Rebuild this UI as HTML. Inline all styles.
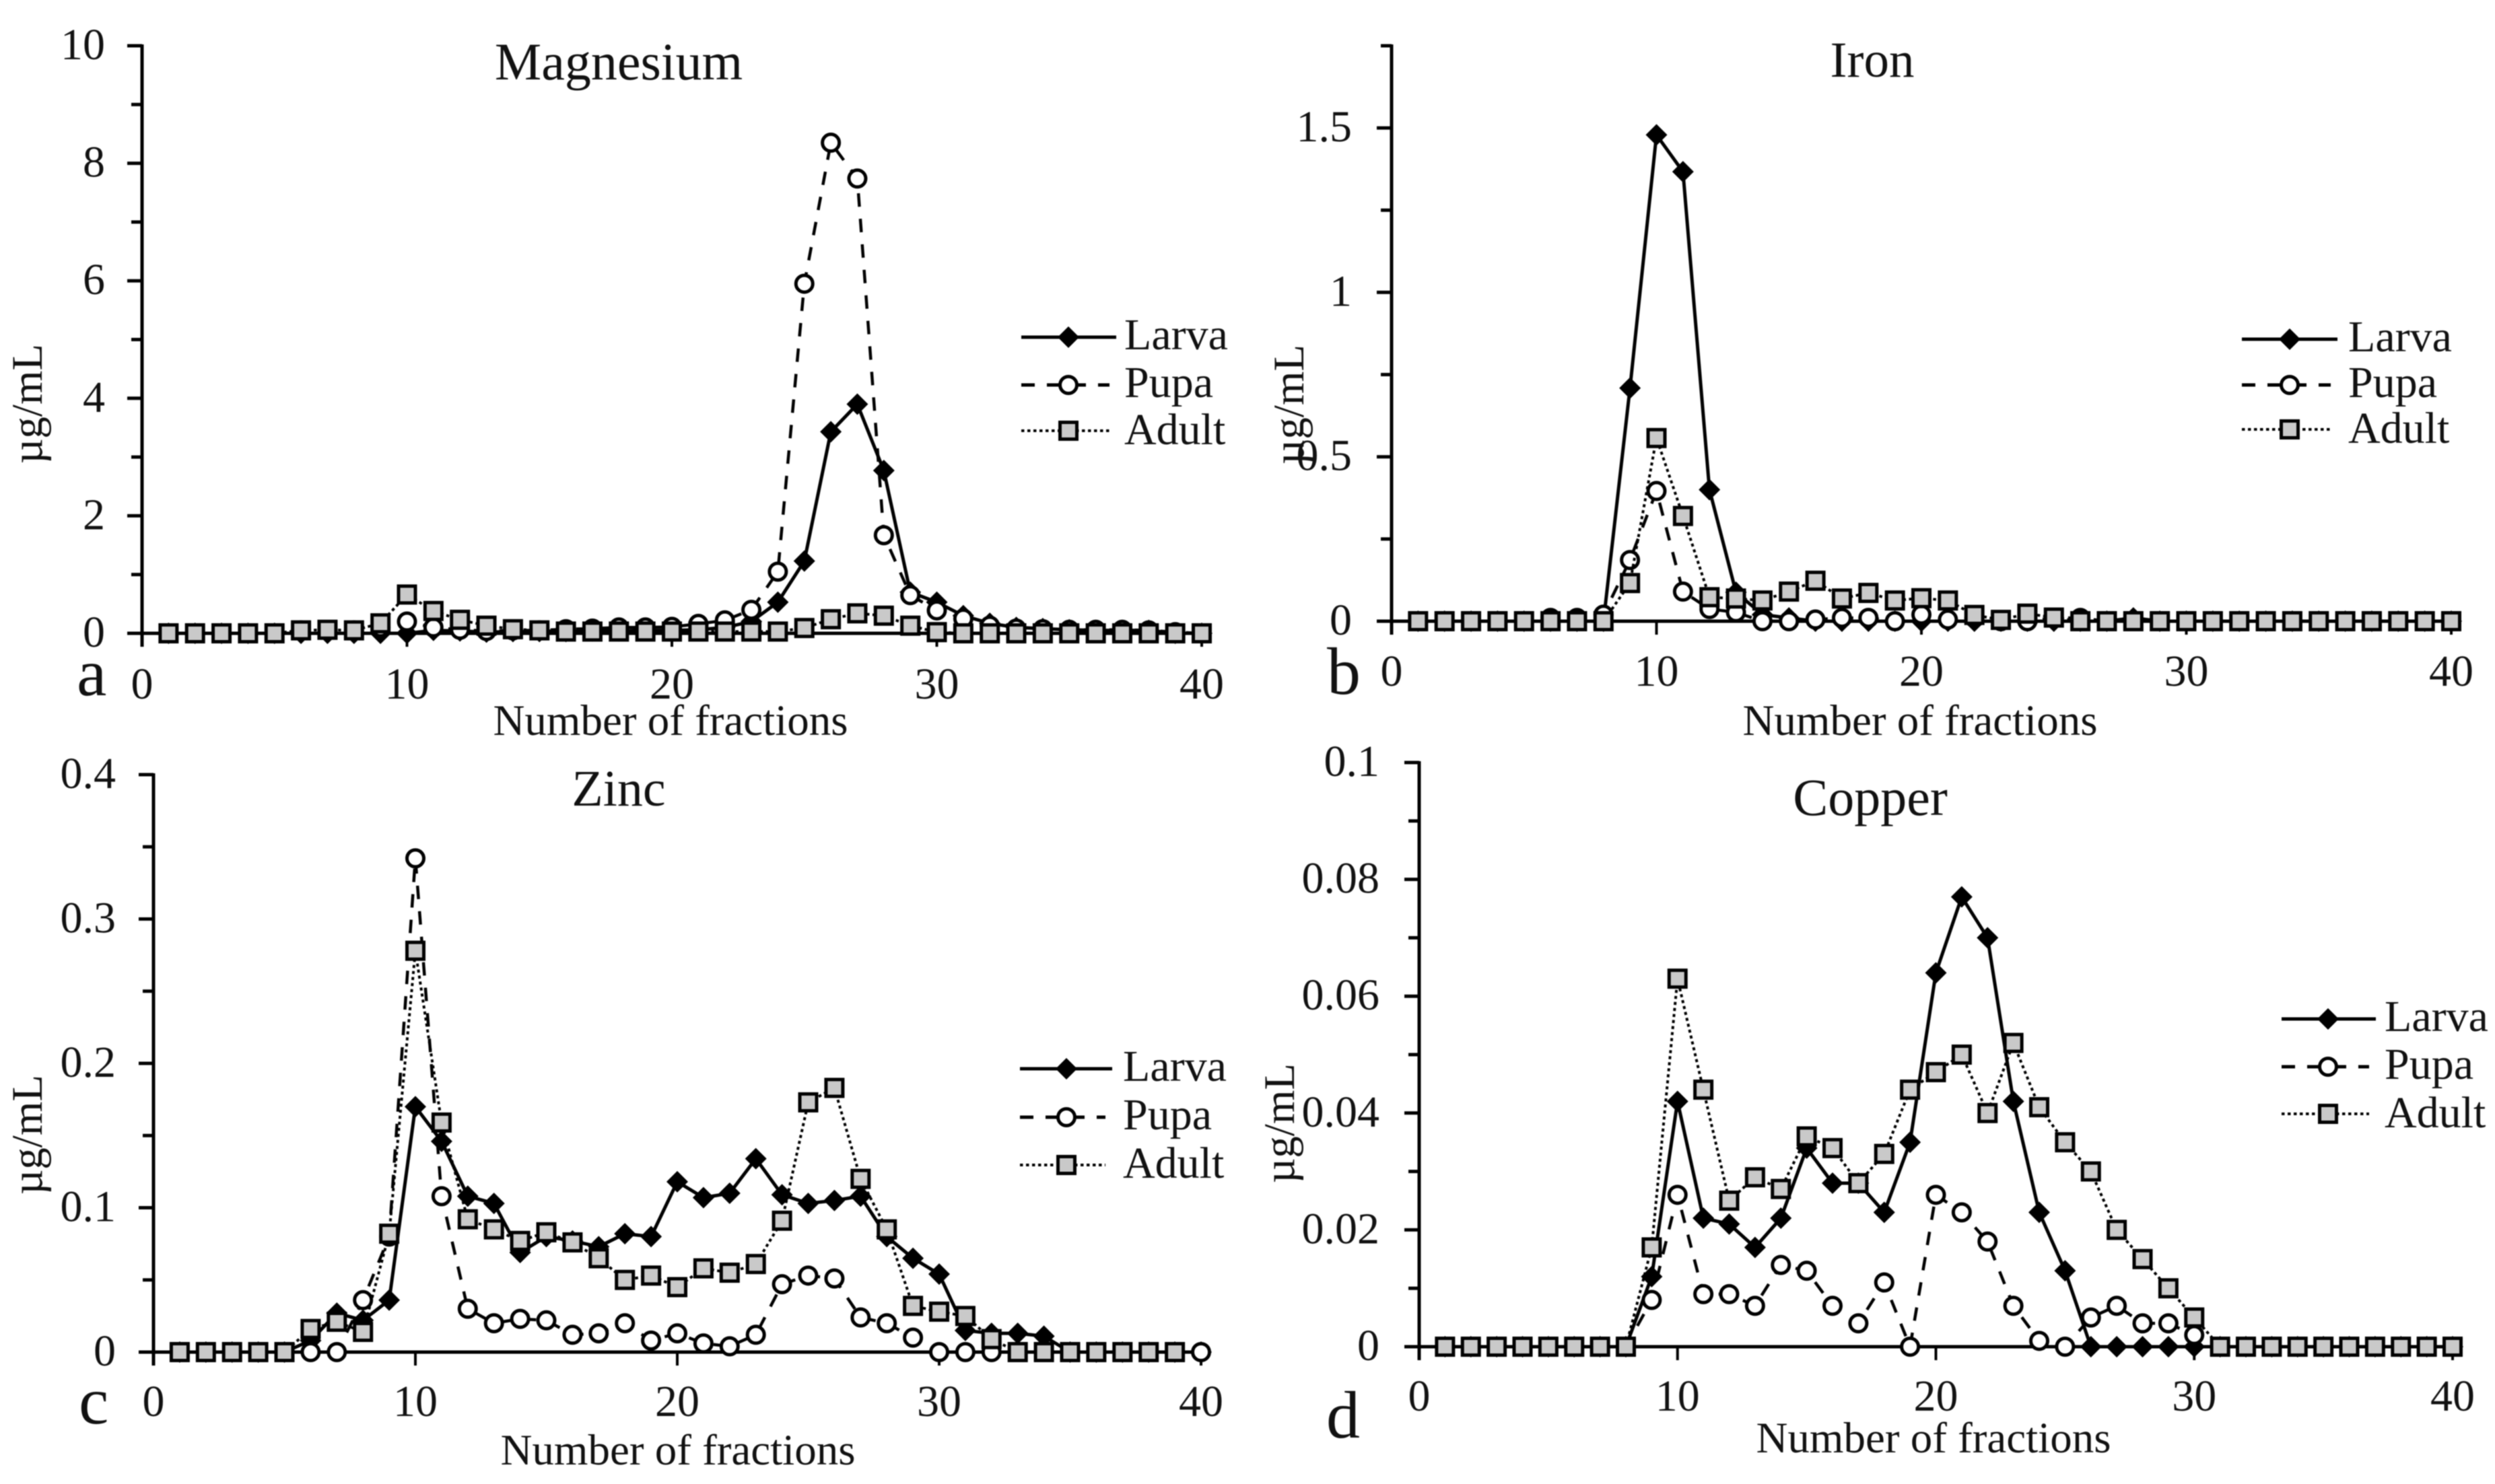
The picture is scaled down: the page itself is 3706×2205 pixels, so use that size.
<!DOCTYPE html>
<html lang="en">
<head>
<meta charset="utf-8">
<title>Metal concentration by fraction</title>
<style>
html,body{margin:0;padding:0;background:#fff;}
svg{display:block;filter:blur(0.7px);}
text{font-family:"Liberation Serif","Times New Roman",serif;fill:#111;}
.tick{font-size:66px;}
.title{font-size:75px;}
.axt{font-size:65px;}
.leg{font-size:66px;}
.tag{font-size:100px;}
</style>
</head>
<body>
<svg id="figure" xmlns="http://www.w3.org/2000/svg" width="3706" height="2205" viewBox="0 0 3706 2205">
  <rect width="3706" height="2205" fill="#fff"/>

  <g id="panel-a">
    <text class="title" x="919" y="118" text-anchor="middle" style="font-size:78px">Magnesium</text>
    <text class="tag" x="114" y="1033">a</text>
    <text class="axt" x="996" y="1092" text-anchor="middle">Number of fractions</text>
    <text class="axt" transform="translate(62,600) rotate(-90)" text-anchor="middle">µg/mL</text>
    <text class="leg" x="1670" y="519">Larva</text>
    <text class="leg" x="1670" y="590">Pupa</text>
    <text class="leg" x="1670" y="660">Adult</text>
  </g>

  <g id="panel-b">
    <text class="title" x="2781" y="114" text-anchor="middle">Iron</text>
    <text class="tag" x="1971" y="1031">b</text>
    <text class="axt" x="2852" y="1092" text-anchor="middle">Number of fractions</text>
    <text class="axt" transform="translate(1936,601) rotate(-90)" text-anchor="middle">µg/mL</text>
    <text class="leg" x="3488" y="522">Larva</text>
    <text class="leg" x="3488" y="590">Pupa</text>
    <text class="leg" x="3488" y="658">Adult</text>
  </g>

  <g id="panel-c">
    <text class="title" x="919" y="1197" text-anchor="middle" style="font-size:76px">Zinc</text>
    <text class="tag" x="117" y="2115">c</text>
    <text class="axt" x="1007" y="2176" text-anchor="middle">Number of fractions</text>
    <text class="axt" transform="translate(62,1686) rotate(-90)" text-anchor="middle">µg/mL</text>
    <text class="leg" x="1668" y="1606">Larva</text>
    <text class="leg" x="1668" y="1678">Pupa</text>
    <text class="leg" x="1668" y="1750">Adult</text>
  </g>

  <g id="panel-d">
    <text class="title" x="2778" y="1211" text-anchor="middle" style="font-size:78px">Copper</text>
    <text class="tag" x="1970" y="2136">d</text>
    <text class="axt" x="2872" y="2158" text-anchor="middle">Number of fractions</text>
    <text class="axt" transform="translate(1922,1669) rotate(-90)" text-anchor="middle">µg/mL</text>
    <text class="leg" x="3542" y="1532">Larva</text>
    <text class="leg" x="3542" y="1603">Pupa</text>
    <text class="leg" x="3542" y="1675">Adult</text>
  </g>
</svg>

<script>
// ---------- Data ----------
const xTickLabels = ['0','10','20','30','40'];

const mgYTicks = ['0','2','4','6','8','10'];
const mgYMinor = [1,3,5,7,9];
const mgLarva = [0,0,0,0,0,0,0,0,0,0,0.05,0.04,0.02,0.03,0.03,0.03,0.04,0.04,0.05,0.05,0.06,0.1,0.2,0.53,1.23,3.43,3.9,2.77,0.7,0.53,0.3,0.17,0.1,0.08,0.06,0.05,0.05,0.05,0,0];
const mgPupa = [0,0,0,0,0,0.05,0.05,0.05,0.1,0.2,0.1,0.06,0.04,0.05,0.05,0.07,0.08,0.1,0.1,0.11,0.16,0.22,0.4,1.05,5.95,8.35,7.74,1.67,0.65,0.39,0.25,0.13,0.08,0.07,0.06,0.06,0.06,0.05,0.02,0];
const mgAdult = [0,0,0,0,0,0.05,0.06,0.05,0.17,0.66,0.38,0.23,0.13,0.07,0.05,0.03,0.03,0.03,0.03,0.03,0.03,0.03,0.03,0.03,0.09,0.24,0.34,0.3,0.13,0.02,0,0,0,0,0,0,0,0,0,0];

const feYTicks = ['0','0.5','1','1.5'];
const feYMinor = [0.25,0.75,1.25,1.75];
const feLarva = [0,0,0,0,0,0,0,0,0.709,1.479,1.367,0.4,0.088,0.02,0.01,0,0,0,0,0,0,0,0,0,0,0,0,0.01,0,0,0,0,0,0,0,0,0,0,0,0];
const fePupa = [0,0,0,0,0,0.01,0.01,0.02,0.186,0.396,0.09,0.037,0.027,0,0,0.005,0.01,0.01,0,0.02,0.005,0.01,0,0,0.01,0.01,0,0,0,0,0,0,0,0,0,0,0,0,0,0];
const feAdult = [0,0,0,0,0,0,0,0,0.116,0.557,0.32,0.073,0.069,0.063,0.09,0.123,0.069,0.086,0.063,0.07,0.063,0.019,0.004,0.023,0.011,0,0,0,0,0,0,0,0,0,0,0,0,0,0,0];

const znYTicks = ['0','0.1','0.2','0.3','0.4'];
const znYMinor = [0.05,0.15,0.25,0.35];
const znLarva = [0,0,0,0,0,0.008,0.027,0.022,0.036,0.17,0.146,0.108,0.103,0.069,0.08,0.077,0.073,0.082,0.08,0.118,0.107,0.11,0.134,0.109,0.103,0.105,0.108,0.08,0.065,0.054,0.015,0.013,0.013,0.011,0,0,0,0,0,0];
const znPupa = [0,0,0,0,0,0,0,0.036,0.08,0.342,0.108,0.03,0.02,0.023,0.022,0.012,0.013,0.02,0.008,0.013,0.006,0.004,0.012,0.047,0.053,0.051,0.024,0.02,0.01,0,0,0,0,0,0,0,0,0,0,0];
const znAdult = [0,0,0,0,0,0.016,0.021,0.014,0.082,0.278,0.159,0.092,0.085,0.077,0.083,0.076,0.065,0.05,0.053,0.045,0.058,0.055,0.061,0.091,0.173,0.183,0.12,0.085,0.032,0.028,0.025,0.009,0,0,0,0,0,0,0];

const cuYTicks = ['0','0.02','0.04','0.06','0.08','0.1'];
const cuYMinor = [0.01,0.03,0.05,0.07,0.09];
const cuLarva = [0,0,0,0,0,0,0,0,0.012,0.042,0.022,0.021,0.017,0.022,0.034,0.028,0.028,0.023,0.035,0.064,0.077,0.07,0.042,0.023,0.013,0,0,0,0,0,0,0,0,0,0,0,0,0,0,0];
const cuPupa = [0,0,0,0,0,0,0,0,0.008,0.026,0.009,0.009,0.007,0.014,0.013,0.007,0.004,0.011,0,0.026,0.023,0.018,0.007,0.001,0,0.005,0.007,0.004,0.004,0.002,0,0,0,0,0,0,0,0,0,0];
const cuAdult = [0,0,0,0,0,0,0,0,0.017,0.063,0.044,0.025,0.029,0.027,0.036,0.034,0.028,0.033,0.044,0.047,0.05,0.04,0.052,0.041,0.035,0.03,0.02,0.015,0.01,0.005,0,0,0,0,0,0,0,0,0,0];

// ---------- Layout (geometry only) ----------
const panels = [
  {id:'panel-a', larva:mgLarva, pupa:mgPupa, adult:mgAdult, yTicks:mgYTicks, yMinor:mgYMinor, yMax:10,
   x0:211, x40:1785, y0:941, yTop:68, yLabelX:156, xLabelY:1038, legX0:1517, legX1:1658, legM:1587, legY:[501,572,640]},
  {id:'panel-b', larva:feLarva, pupa:fePupa, adult:feAdult, yTicks:feYTicks, yMinor:feYMinor, yMax:1.75,
   x0:2067, x40:3641, y0:923, yTop:68, yLabelX:2008, xLabelY:1019, legX0:3330, legX1:3472, legM:3401, legY:[504,572,638]},
  {id:'panel-c', larva:znLarva, pupa:znPupa, adult:znAdult, yTicks:znYTicks, yMinor:znYMinor, yMax:0.4,
   x0:228, x40:1784, y0:2009, yTop:1151, yLabelX:172, xLabelY:2104, legX0:1515, legX1:1652, legM:1584, legY:[1588,1660,1731]},
  {id:'panel-d', larva:cuLarva, pupa:cuPupa, adult:cuAdult, yTicks:cuYTicks, yMinor:cuYMinor, yMax:0.1,
   x0:2108, x40:3643, y0:2001, yTop:1133, yLabelX:2049, xLabelY:2096, legX0:3389, legX1:3529, legM:3458, legY:[1514,1585,1655]}
];

const NS = 'http://www.w3.org/2000/svg';
const INK = '#000';

function mk(tag, parent, attrs) {
  const e = document.createElementNS(NS, tag);
  for (const k in attrs) e.setAttribute(k, attrs[k]);
  parent.appendChild(e);
  return e;
}

function drawMarker(kind, g, cx, cy) {
  let m;
  if (kind === 'larva') {
    m = mk('polygon', g, {points:(cx-16)+','+cy+' '+cx+','+(cy-16)+' '+(cx+16)+','+cy+' '+cx+','+(cy+16), fill:INK});
  } else if (kind === 'pupa') {
    m = mk('circle', g, {cx:cx, cy:cy, r:12.5, fill:'#fff', stroke:INK, 'stroke-width':5});
  } else {
    m = mk('rect', g, {x:cx-12.5, y:cy-12.5, width:25, height:25, fill:'#c9c9c9', stroke:INK, 'stroke-width':5});
  }
  
  
}

const lineStyles = {
  larva:{'stroke-width':5},
  pupa:{'stroke-width':4.5, 'stroke-dasharray':'20 18'},
  adult:{'stroke-width':4, 'stroke-dasharray':'4.5 4.5'}
};

function drawSeries(root, kind, values, sx, sy) {
  const g = mk('g', root, {});
  
  
  const pts = values.map(function (v, i) { return sx(i + 1) + ',' + sy(v); }).join(' ');
  const line = mk('polyline', g, Object.assign({points:pts, fill:'none', stroke:INK, 'stroke-linejoin':'round'}, lineStyles[kind]));
  
  
  values.forEach(function (v, i) { drawMarker(kind, g, sx(i + 1), sy(v)); });
}

function drawLegendKey(root, kind, p, y) {
  const g = mk('g', root, {});
  
  
  const end = kind === 'larva' ? p.legX1 : p.legX1 - 10;
  const style = Object.assign({}, lineStyles[kind], kind === 'larva' ? {'stroke-width':5} : {'stroke-width': kind === 'pupa' ? 5 : 4});
  const l = mk('line', g, Object.assign({x1:p.legX0, y1:y, x2:end, y2:y, stroke:INK}, style));
  
  
  drawMarker(kind, g, p.legM, y);
}

panels.forEach(function (p) {
  const root = document.getElementById(p.id);
  const sx = function (v) { return p.x0 + v * (p.x40 - p.x0) / 40; };
  const sy = function (v) { return p.y0 - v / p.yMax * (p.y0 - p.yTop); };

  const axes = mk('g', root, {stroke:INK, 'stroke-width':5});
  
  

  const yAxis = mk('line', axes, {x1:p.x0, y1:p.yTop - 2, x2:p.x0, y2:p.y0 + 20});
  
  

  const xAxis = mk('line', axes, {x1:p.x0, y1:p.y0, x2:p.x40, y2:p.y0});
  
  

  p.yTicks.forEach(function (label) {
    const y = sy(parseFloat(label));
    const t = mk('line', axes, {x1:p.x0 - 22, y1:y, x2:p.x0, y2:y});
    
    
    const txt = mk('text', root, {class:'tick', x:p.yLabelX, y:y + 20, 'text-anchor':'end'});
    
    
    txt.textContent = label;
  });

  p.yMinor.forEach(function (v) {
    const y = sy(v);
    const t = mk('line', axes, {x1:p.x0 - 16, y1:y, x2:p.x0, y2:y});
    
    
  });

  xTickLabels.forEach(function (label) {
    const x = sx(parseFloat(label));
    const t = mk('line', axes, {x1:x, y1:p.y0, x2:x, y2:p.y0 + 20, 'stroke-width':4});
    
    
    const txt = mk('text', root, {class:'tick', x:x, y:p.xLabelY, 'text-anchor':'middle'});
    
    
    txt.textContent = label;
  });

  drawSeries(root, 'larva', p.larva, sx, sy);
  drawSeries(root, 'pupa', p.pupa, sx, sy);
  drawSeries(root, 'adult', p.adult, sx, sy);

  drawLegendKey(root, 'larva', p, p.legY[0]);
  drawLegendKey(root, 'pupa', p, p.legY[1]);
  drawLegendKey(root, 'adult', p, p.legY[2]);
});
</script>
</body>
</html>
